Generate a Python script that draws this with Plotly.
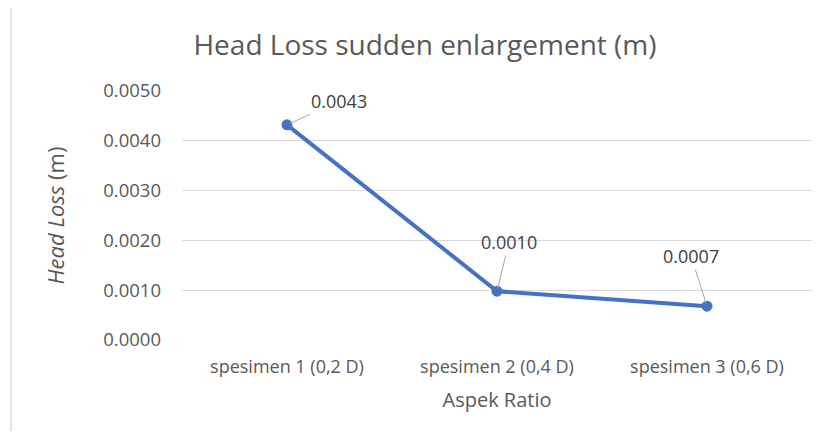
import plotly.graph_objects as go

categories = ["spesimen 1 (0,2 D)", "spesimen 2 (0,4 D)", "spesimen 3 (0,6 D)"]
head_loss = [0.00432, 0.00098, 0.00068]
label_text = ["0.0043", "0.0010", "0.0007"]
y_ticks = [0.0, 0.001, 0.002, 0.003, 0.004, 0.005]
y_tick_labels = ["0.0000", "0.0010", "0.0020", "0.0030", "0.0040", "0.0050"]

FONT = "Open Sans"
TXT = "#595959"
BLUE = "#4472C4"

fig = go.Figure()
fig.add_trace(go.Scatter(
    x=categories, y=head_loss, mode="lines+markers",
    line=dict(color=BLUE, width=4),
    marker=dict(color=BLUE, size=11),
    hoverinfo="skip", showlegend=False,
))

offsets = [(52, -24), (12, -49), (-16, -50)]
for c, v, t, (ax, ay) in zip(categories, head_loss, label_text, offsets):
    fig.add_annotation(
        x=c, y=v, text=t, showarrow=True, arrowhead=0, arrowwidth=1,
        arrowcolor="#A6A6A6", ax=ax, ay=ay, standoff=3,
        font=dict(family=FONT, size=18, color="#404040"),
    )

# page has an 8px body margin; figure coordinates are page coordinates minus 8
W, H = 808, 423
L, R, T, B = 174, 4, 83, 91
pw, ph = W - L - R, H - T - B

def px_x(p):
    return (p - L) / pw

def px_y(p):
    return (H - B - p) / ph

fig.add_shape(type="rect", xref="paper", yref="paper",
              x0=px_x(3), x1=px_x(840), y0=px_y(460), y1=px_y(-2.5),
              line=dict(color="#D9D9D9", width=1.5), fillcolor="rgba(0,0,0,0)", layer="below")

fig.update_layout(
    width=W, height=H,
    margin=dict(l=L, r=R, t=T, b=B),
    paper_bgcolor="white", plot_bgcolor="white",
    title=dict(text="Head Loss sudden enlargement (m)", x=417 / W, xanchor="center",
               y=1 - 37 / H, yanchor="middle",
               font=dict(family=FONT, size=28, color=TXT)),
    xaxis=dict(
        type="category", range=[-0.5, 2.5], showgrid=False, zeroline=False, showline=False, ticks="",
        ticklabelstandoff=14,
        tickfont=dict(family=FONT, size=18, color=TXT),
        title=dict(text="Aspek Ratio", font=dict(family=FONT, size=20, color=TXT), standoff=15),
    ),
    yaxis=dict(
        range=[0, 0.005], tickvals=y_ticks, ticktext=y_tick_labels,
        showgrid=True, gridcolor="#D9D9D9", gridwidth=1, zeroline=False,
        showline=False, ticks="", ticklabelstandoff=20,
        tickfont=dict(family=FONT, size=18.5, color=TXT),
        title=dict(text="<i>Head Loss</i> (m)", font=dict(family=FONT, size=22, color=TXT), standoff=32),
    ),
)

fig.write_html("out.html")
